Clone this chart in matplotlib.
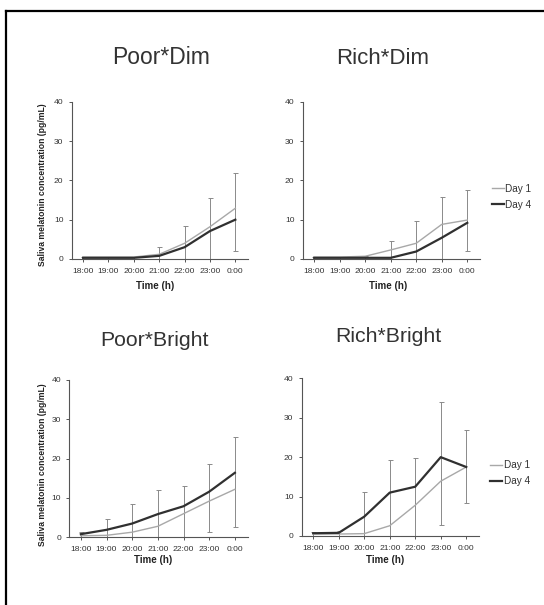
import numpy as np
import matplotlib
matplotlib.use("Agg")
import matplotlib.pyplot as plt
from matplotlib.lines import Line2D

plt.rcParams['font.family'] = ['Liberation Sans', 'DejaVu Sans']

# ========== DATA ==========
hours = ['18:00', '19:00', '20:00', '21:00', '22:00', '23:00', '0:00']

poor_dim_day1 = [0.5, 0.5, 0.5, 1.2, 4.0, 8.2, 12.9]
poor_dim_day4 = [0.3, 0.3, 0.3, 0.8, 3.0, 7.1, 10.0]
poor_dim_err_hi = [0.6, 0.6, 0.6, 3.0, 8.5, 15.5, 21.8]
poor_dim_err_lo = [0, 0, 0, 0, 0, 0, 2.0]

rich_dim_day1 = [0.5, 0.5, 0.7, 2.3, 4.0, 8.8, 9.9]
rich_dim_day4 = [0.3, 0.3, 0.3, 0.3, 1.9, 5.4, 9.2]
rich_dim_err_hi = [0.6, 0.6, 0.8, 4.7, 9.6, 15.7, 17.6]
rich_dim_err_lo = [0, 0, 0, 0, 0, 0, 2.1]

poor_bright_day1 = [0.4, 0.5, 1.3, 2.8, 6.0, 9.2, 12.2]
poor_bright_day4 = [0.8, 1.9, 3.5, 5.9, 7.9, 11.6, 16.4]
poor_bright_err_hi = [1.3, 4.7, 8.4, 12.1, 13.0, 18.6, 25.6]
poor_bright_err_lo = [0, 0, 0, 0, 0, 1.3, 2.5]

rich_bright_day1 = [0.5, 0.5, 0.6, 2.6, 7.8, 13.9, 17.5]
rich_bright_day4 = [0.7, 0.8, 4.9, 11.0, 12.5, 20.0, 17.5]
rich_bright_err_hi = [1.0, 1.3, 11.1, 19.2, 19.8, 33.9, 26.8]
rich_bright_err_lo = [0, 0, 0, 0, 0, 2.7, 8.3]

W, H = 544, 605
fig = plt.figure(figsize=(W / 100, H / 100), dpi=100)

# frame (only top and left edges visible in the scan)
fig.add_artist(Line2D([6 / W, 1.0], [1 - 11 / H, 1 - 11 / H], transform=fig.transFigure, color='black', lw=1.6))
fig.add_artist(Line2D([6 / W, 6 / W], [0.0, 1 - 11 / H], transform=fig.transFigure, color='black', lw=1.6))


def px_axes(left, right, top, bottom):
    return fig.add_axes([left / W, 1 - bottom / H, (right - left) / W, (bottom - top) / H])


panels = [
    # title, day1, day4, hi, lo, axes box, title pos, title size, ylabel, legend pos, xlabel pos, ylabel pos
    ('Poor*Dim', poor_dim_day1, poor_dim_day4, poor_dim_err_hi, poor_dim_err_lo,
     (71.7, 248, 101.7, 259), (161, 58), 16.5, True, None, (0.472, -0.14), (-0.142, 0.474)),
    ('Rich*Dim', rich_dim_day1, rich_dim_day4, rich_dim_err_hi, rich_dim_err_lo,
     (302.7, 480, 101.7, 259), (383, 58), 16.0, False, (491.7, 197), (0.479, -0.14), None),
    ('Poor*Bright', poor_bright_day1, poor_bright_day4, poor_bright_err_hi, poor_bright_err_lo,
     (69.3, 247.7, 380, 537.3), (154, 340), 15.3, True, None, (0.471, -0.115), (-0.123, 0.463)),
    ('Rich*Bright', rich_bright_day1, rich_bright_day4, rich_bright_err_hi, rich_bright_err_lo,
     (301.7, 479, 378.3, 536), (388, 336), 15.3, False, (490, 473.5), (0.468, -0.118), None),
]

x = np.arange(len(hours))
for title, d1, d4, hi, lo, box, tpos, tsize, show_ylab, legpos, xlpos, ylpos in panels:
    ax = px_axes(*box)
    lo_a = np.array(lo)
    hi_a = np.array(hi)
    ax.errorbar(x, lo_a, yerr=[np.zeros_like(lo_a), hi_a - lo_a], fmt='none',
                ecolor='#8a8a8a', elinewidth=0.7, capsize=1.8, capthick=0.7, clip_on=False)
    ax.plot(x, d1, color='#a8a8a8', lw=1.0, label='Day 1')
    ax.plot(x, d4, color='#303030', lw=1.6, label='Day 4')

    ax.set_xlim(-0.45, 6.5)
    ax.set_ylim(0, 40)
    ax.set_yticks([0, 10, 20, 30, 40])
    ax.set_xticks(x)
    ax.set_xticklabels(hours)
    for s in ['top', 'right']:
        ax.spines[s].set_visible(False)
    for s in ['left', 'bottom']:
        ax.spines[s].set_color('#555555')
        ax.spines[s].set_linewidth(0.8)
    ax.tick_params(axis='both', length=2, width=0.7, color='#555555',
                   labelsize=6.1, labelcolor='#333333')
    ax.tick_params(axis='x', pad=4.3)
    ax.tick_params(axis='y', pad=4)

    ax.set_xlabel('Time (h)', fontsize=7, fontweight='bold', color='#222222')
    ax.xaxis.set_label_coords(*xlpos)
    if show_ylab:
        ax.set_ylabel('Saliva melatonin concentration (pg/mL)', fontsize=6.2,
                      fontweight='bold', color='#222222')
        ax.yaxis.set_label_coords(*ylpos)

    if legpos is not None:
        ax.legend(loc='center left', bbox_to_anchor=(legpos[0] / W, 1 - legpos[1] / H),
                  bbox_transform=fig.transFigure, frameon=False, fontsize=7.2,
                  handlelength=1.2, handletextpad=0.15, labelspacing=0.6,
                  borderpad=0, borderaxespad=0, labelcolor='#333333')

    fig.text(tpos[0] / W, 1 - tpos[1] / H, title, fontsize=tsize, color='#333333',
             ha='center', va='center')

fig.savefig('out.png', dpi=100, facecolor='white')
